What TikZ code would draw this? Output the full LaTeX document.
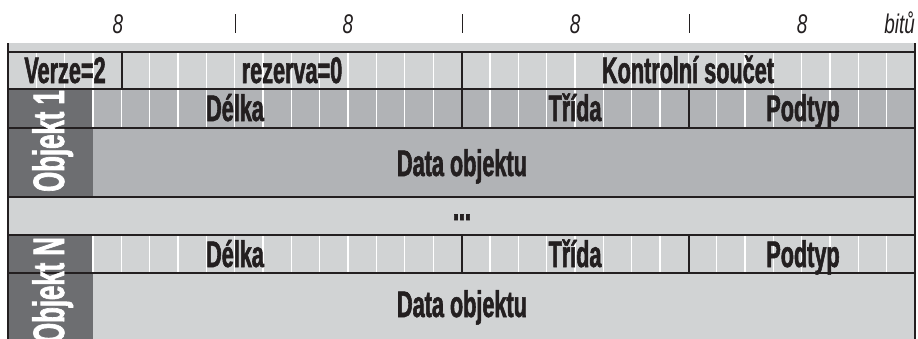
\documentclass[tikz,border=0pt]{standalone}
\usepackage{fontspec}
\newfontfamily\cond{Liberation Sans Bold}[FakeStretch=0.585, FakeBold=1.5]
\newfontfamily\condit{Liberation Sans Italic}[FakeStretch=0.7]
\definecolor{ink}{HTML}{231F20}
\definecolor{lightg}{HTML}{D1D3D4}
\definecolor{midg}{HTML}{B1B3B6}
\definecolor{darkg}{HTML}{6D6E71}
\begin{document}
\begin{tikzpicture}[x=1pt,y=-1pt,
  lbl/.style={font=\cond\fontsize{37}{37}\selectfont, text=ink, inner sep=0pt, anchor=base},
  vlbl/.style={font=\cond\fontsize{44}{44}\selectfont, text=white, inner sep=0pt, rotate=90, anchor=base},
  bitlbl/.style={font=\condit\fontsize{27}{27}\selectfont, text=ink, inner sep=0pt, anchor=base},
  rule/.style={draw=ink, line width=1.2pt},
  frame/.style={draw=ink, line width=2.4pt},
  tick/.style={draw=ink, line width=1pt},
  bitline/.style={draw=white, line width=1.3pt}]
\useasboundingbox (0,0) rectangle (918,338);
\clip (0,0) rectangle (918,338);
% fills
\fill[lightg] (8,43) rectangle (915,89);
\fill[midg] (93,89) rectangle (915,197);
\fill[darkg] (8,89) rectangle (93,197);
\fill[lightg] (8,197) rectangle (915,350);
\fill[darkg] (8,235) rectangle (93,350);
% white bit separators
\foreach \k in {1,...,31}{
  \pgfmathsetmacro{\xx}{8+28.34375*\k}
  \ifnum\k=4\relax\else\ifnum\k=16\relax\else
    \draw[bitline] (\xx,52) -- (\xx,89);
  \fi\fi
  \ifnum\k>2\relax
    \ifnum\k=16\relax\else\ifnum\k=24\relax\else
      \draw[bitline] (\xx,89) -- (\xx,128);
      \draw[bitline] (\xx,235) -- (\xx,273);
    \fi\fi
  \fi
}
% coordinates for rules
\coordinate (L1) at (8,52);   \coordinate (R1) at (915,52);
\coordinate (L2) at (8,89);   \coordinate (R2) at (915,89);
\coordinate (L3) at (8,128);  \coordinate (R3) at (915,128);
\coordinate (L4) at (8,197);  \coordinate (R4) at (915,197);
\coordinate (L5) at (8,235);  \coordinate (R5) at (915,235);
\coordinate (L6) at (8,273);  \coordinate (R6) at (915,273);
\foreach \i in {1,...,6}{\draw[rule] (L\i) -- (R\i);}
% vertical separators
\draw[rule] (122,52) -- (122,89);
\draw[rule] (462,52) -- (462,89);
\draw[rule] (462,89) -- (462,128);
\draw[rule] (689,89) -- (689,128);
\draw[rule] (462,235) -- (462,273);
\draw[rule] (689,235) -- (689,273);
% outer frame
\coordinate (FLt) at (8,43); \coordinate (FLb) at (8,340);
\coordinate (FRt) at (915,43); \coordinate (FRb) at (915,340);
\draw[frame] (FLt) -- (FLb);
\draw[frame] (FRt) -- (FRb);
% top scale
\coordinate (t1a) at (235,14); \coordinate (t1b) at (235,33);
\coordinate (t2a) at (462,14); \coordinate (t2b) at (462,33);
\coordinate (t3a) at (689,14); \coordinate (t3b) at (689,33);
\draw[tick] (t1a) -- (t1b);
\draw[tick] (t2a) -- (t2b);
\draw[tick] (t3a) -- (t3b);
\node[bitlbl] (b1) at (118,33) {8};
\node[bitlbl] (b2) at (348,33) {8};
\node[bitlbl] (b3) at (575,33) {8};
\node[bitlbl] (b4) at (802,33) {8};
\node[bitlbl, anchor=base east] (bu) at (915,33) {bitů};
% labels
\node[lbl] (verze) at (65,83) {Verze=2};
\node[lbl] (rez) at (292,83) {rezerva=0};
\node[lbl] (ks) at (688,83) {Kontrolní součet};
\node[lbl] (d1) at (235,121) {Délka};
\node[lbl] (t1) at (575,121) {Třída};
\node[lbl] (p1) at (803,121) {Podtyp};
\node[lbl] (data1) at (462,176) {Data objektu};
\node[lbl] (dots) at (462,220) {...};
\node[lbl] (d2) at (235,267) {Délka};
\node[lbl] (t2) at (575,267) {Třída};
\node[lbl] (p2) at (803,267) {Podtyp};
\node[lbl] (data2) at (462,317) {Data objektu};
\node[vlbl] (o1) at (64,141) {Objekt 1};
\node[vlbl] (oN) at (64,290) {Objekt N};
\end{tikzpicture}
\end{document}
